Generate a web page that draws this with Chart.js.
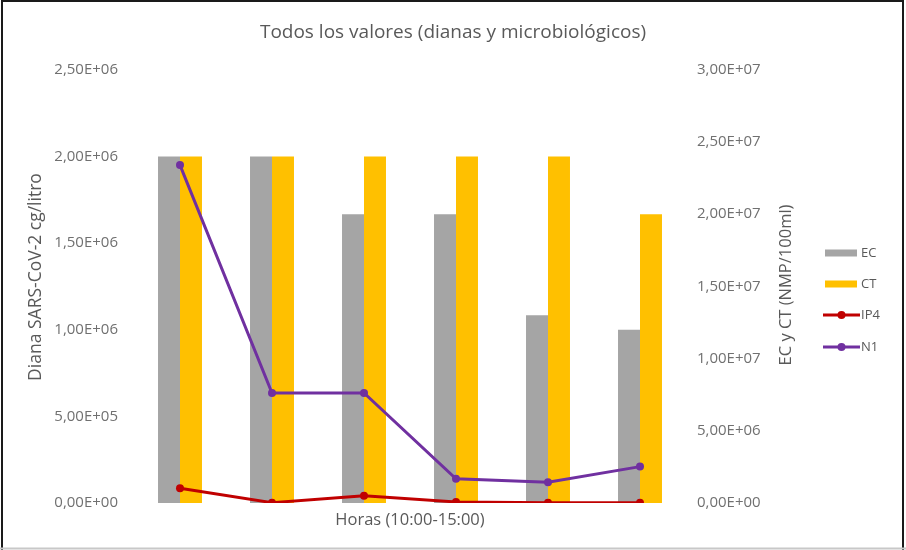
<!DOCTYPE html>
<html>
<head>
<meta charset="utf-8">
<script src="https://cdn.jsdelivr.net/npm/chart.js@4/dist/chart.umd.min.js"></script>
<style>
  html, body { margin: 0; padding: 0; background: #fff; }
  #wrap { width: 906px; height: 550px; position: relative; }
</style>
</head>
<body>
<div id="wrap"><canvas id="c" width="906" height="550"></canvas></div>
<script>
// ---- Data ----
const categories = ['10:00', '11:00', '12:00', '13:00', '14:00', '15:00'];
const ecValues  = [2.4e7, 2.4e7, 2.0e7, 2.0e7, 1.3e7, 1.2e7];   // right axis
const ctValues  = [2.4e7, 2.4e7, 2.4e7, 2.4e7, 2.4e7, 2.0e7];   // right axis
const ip4Values = [8.5e4, 2e3, 4.2e4, 6e3, 2e3, 2e3];          // left axis
const n1Values  = [1.95e6, 6.35e5, 6.35e5, 1.4e5, 1.2e5, 2.1e5]; // left axis
const leftTicks  = [0, 5e5, 1e6, 1.5e6, 2e6, 2.5e6];
const rightTicks = [0, 5e6, 1e7, 1.5e7, 2e7, 2.5e7, 3e7];

const TXT = '#595959';
const FONT = '"Open Sans", "Noto Sans", sans-serif';

function fmtE(v) {
  const s = Number(v).toExponential(2);          // e.g. 2.50e+6
  const [m, e] = s.split('e');
  const sign = e[0] === '-' ? '-' : '+';
  const ex = Math.abs(parseInt(e, 10)).toString().padStart(2, '0');
  return m.replace('.', ',') + 'E' + sign + ex;
}

const legendItems = [
  { label: 'EC',  type: 'bar',  color: '#A5A5A5' },
  { label: 'CT',  type: 'bar',  color: '#FFC000' },
  { label: 'IP4', type: 'line', color: '#C00000' },
  { label: 'N1',  type: 'line', color: '#7030A0' }
];

function vText(ctx, text, x, y, size) {
  ctx.save();
  ctx.fillStyle = TXT;
  ctx.font = size + 'px ' + FONT;
  ctx.textAlign = 'center';
  ctx.textBaseline = 'middle';
  ctx.translate(x, y);
  ctx.rotate(-Math.PI / 2);
  ctx.fillText(text, 0, 0);
  ctx.restore();
}

const decor = {
  id: 'decor',
  afterDraw(chart) {
    const ctx = chart.ctx;
    // axis titles (both read bottom to top)
    vText(ctx, 'Diana SARS-CoV-2 cg/litro', 36, 277, 17.5);
    vText(ctx, 'EC y CT (NMP/100ml)', 786, 285, 16.5);

    // legend
    ctx.save();
    const ys = [253, 284, 315, 347];
    legendItems.forEach((it, i) => {
      const y = ys[i];
      if (it.type === 'bar') {
        ctx.fillStyle = it.color;
        ctx.fillRect(825, y - 3.5, 32, 7);
      } else {
        ctx.strokeStyle = it.color;
        ctx.lineWidth = 3;
        ctx.beginPath();
        ctx.moveTo(823, y); ctx.lineTo(860, y);
        ctx.stroke();
        ctx.fillStyle = it.color;
        ctx.beginPath();
        ctx.arc(841.5, y, 4, 0, Math.PI * 2);
        ctx.fill();
      }
      ctx.fillStyle = TXT;
      ctx.font = '13px ' + FONT;
      ctx.textAlign = 'left';
      ctx.textBaseline = 'middle';
      ctx.fillText(it.label, 861, y);
    });
    ctx.restore();

    // frame
    ctx.save();
    ctx.strokeStyle = '#1a1a1a';
    ctx.lineWidth = 2;
    ctx.beginPath();
    ctx.moveTo(2, 550); ctx.lineTo(2, 1); ctx.lineTo(903, 1); ctx.lineTo(903, 550);
    ctx.stroke();
    ctx.strokeStyle = '#c8c8c8';
    ctx.beginPath();
    ctx.moveTo(0, 548.5); ctx.lineTo(906, 548.5);
    ctx.stroke();
    ctx.restore();
  }
};

new Chart(document.getElementById('c'), {
  data: {
    labels: categories,
    datasets: [
      { type: 'line', label: 'IP4', data: ip4Values, yAxisID: 'y', order: 1,
        borderColor: '#C00000', backgroundColor: '#C00000', borderWidth: 3,
        pointRadius: 4, pointBackgroundColor: '#C00000', pointBorderWidth: 0, tension: 0 },
      { type: 'line', label: 'N1', data: n1Values, yAxisID: 'y', order: 0,
        borderColor: '#7030A0', backgroundColor: '#7030A0', borderWidth: 3,
        pointRadius: 4, pointBackgroundColor: '#7030A0', pointBorderWidth: 0, tension: 0 },
      { type: 'bar', label: 'EC', data: ecValues, yAxisID: 'y1', order: 3,
        backgroundColor: '#A5A5A5', barPercentage: 1, categoryPercentage: 0.478 },
      { type: 'bar', label: 'CT', data: ctValues, yAxisID: 'y1', order: 3,
        backgroundColor: '#FFC000', barPercentage: 1, categoryPercentage: 0.478 }
    ]
  },
  options: {
    responsive: false,
    animation: false,
    layout: { padding: { left: 0, right: 0, top: 0, bottom: 0 } },
    plugins: {
      legend: { display: false },
      tooltip: { enabled: false },
      title: {
        display: true,
        text: 'Todos los valores (dianas y microbiológicos)',
        color: TXT,
        font: { family: FONT, size: 19, weight: 'normal' },
        padding: { top: 21, bottom: 26 }
      }
    },
    scales: {
      x: {
        offset: true,
        grid: { display: false, drawTicks: false },
        border: { display: false },
        ticks: { display: false },
        title: { display: true, text: 'Horas (10:00-15:00)', color: TXT,
                 font: { family: FONT, size: 16.5 }, padding: { top: 0, bottom: 20 } },
        afterFit(s) { s.height = 47; }
      },
      y: {
        position: 'left',
        min: 0, max: 2.5e6,
        afterBuildTicks(s) { s.ticks = leftTicks.map(v => ({ value: v })); },
        grid: { display: false, drawTicks: false },
        border: { display: false },
        ticks: { color: '#707070', font: { family: FONT, size: 15 }, padding: 16,
                 callback: v => fmtE(v) },
        afterFit(s) { s.width = 134; }
      },
      y1: {
        position: 'right',
        min: 0, max: 3e7,
        afterBuildTicks(s) { s.ticks = rightTicks.map(v => ({ value: v })); },
        grid: { display: false, drawTicks: false },
        border: { display: false },
        ticks: { color: '#707070', font: { family: FONT, size: 15 }, padding: 11,
                 callback: v => fmtE(v) },
        afterFit(s) { s.width = 220; }
      }
    }
  },
  plugins: [decor]
});
</script>
</body>
</html>
